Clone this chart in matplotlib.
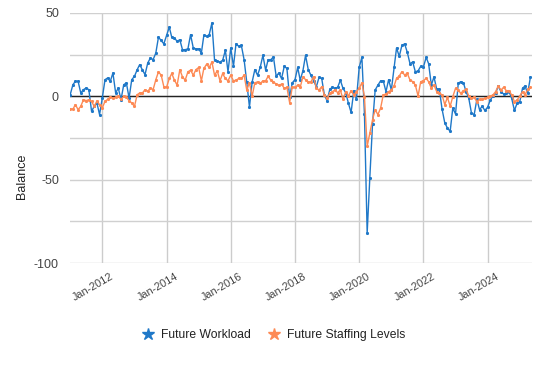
import numpy as np
import pandas as pd
import matplotlib
matplotlib.use("Agg")
import matplotlib.pyplot as plt
import matplotlib.dates as mdates
from matplotlib.lines import Line2D
from matplotlib.transforms import ScaledTranslation

plt.rcParams['font.family'] = ['Liberation Sans', 'DejaVu Sans']
plt.rcParams['axes.unicode_minus'] = False

# monthly balance, Jan-2011 .. May-2025
months = pd.date_range('2011-01-01', periods=173, freq='MS')

workload = [
    # 2011
    1, 7, 9, 9, 2, 4, 5, 4, -9, -6, -4, -11,
    # 2012
    -1, 10, 11, 9, 14, 2, 5, -2, 7, 8, -1, 10,
    # 2013
    12, 16, 19, 16, 13, 20, 23, 22, 26, 35.5, 33.5, 31.5,
    # 2014
    36.5, 41.5, 35.5, 35, 33, 34, 28, 28, 28.5, 37, 29, 28.5,
    # 2015
    28.5, 26, 36.5, 36, 37, 44, 21.6, 21, 20.6, 21.6, 27.6, 14.7,
    # 2016
    29, 18, 31.5, 30, 30.5, 22, 8.7, -6.5, 8.7, 16, 12.7, 17.3,
    # 2017
    24.6, 15.7, 22, 22, 23.6, 12, 14, 10.7, 18, 16.7, -0.6, 8.1,
    # 2018
    10, 17.3, 9.7, 15.3, 24.6, 16, 12.7, 9.3, 5.8, 11.3, 10.7, 0.8,
    # 2019
    -2.6, 4.2, 5.4, 4.8, 5.4, 9.7, 4.8, 2.2, -4.2, -9.7, 3.4, -1.8,
    # 2020
    17.3, 23.4, -10.6, -82, -49, -16.5, 3.8, 6.7, 9.3, 9.3, 2.8, 10,
    # 2021
    3.8, 17.3, 29, 24, 30.5, 31.5, 26.5, 19.6, 20.6, 14.7, 15.3, 18,
    # 2022
    17.6, 23.4, 19.6, 6.7, 11.7, 4.2, 4.2, -7.7, -16, -19, -21, -7,
    # 2023
    -10.6, 7.8, 8.8, 8.1, 2.8, -1.2, -10, -11, -1.8, -8, -6, -8.5,
    # 2024
    -6.5, -2.2, 0.2, 1.8, 6.2, 2.8, 1.4, 1.8, 2.8, -1.2, -8.5, -4.2,
    # 2025
    -3.2, 4.8, 6.2, 1.8, 11.3,
]

staffing = [
    # 2011
    -7.5, -7.7, -5, -8, -6, -2, -2.6, -2, -3, -6, -2.8, -5,
    # 2012
    -7, -3, -1.8, -0.6, -1, -0.6, 0, -1.8, 0, -0.6, -2.6, -4,
    # 2013
    -6, 1, 2, 2, 4, 3, 5, 4, 10, 14.7, 12.7, 5.8,
    # 2014
    5.4, 10.7, 13.7, 9.7, 6.7, 16, 11.7, 9.7, 14.7, 15.7, 12.7, 16,
    # 2015
    17.3, 9.3, 16.7, 19.2, 17.3, 20.6, 12.7, 15.3, 9.3, 13.7, 10.7, 9.3,
    # 2016
    12.7, 9.3, 9.7, 10.7, 10.7, 12.7, 3.8, 8.1, 0.2, 8.1, 8.7, 7.7,
    # 2017
    9.3, 9.3, 12, 9.7, 8.7, 7.3, 6.7, 7.3, 4.8, 5.4, -3.8, 5.4,
    # 2018
    5.4, 6.7, 5.4, 11.7, 10, 8.7, 8.7, 11.7, 4.8, 3.8, 5.8, 0.8,
    # 2019
    -1.2, 1.8, 2.8, 3.8, 2.2, 3.8, -1.8, 2.8, 0.2, 3.4, 0.8, 2.8,
    # 2020
    4.8, 8.1, -0.2, -30, -22, -14, -8, -11, -7, 0.8, 1.4, 2.8,
    # 2021
    3.8, 6.2, 10.8, 12.2, 14.8, 12.8, 13.8, 9.8, 8.8, 6.8, 0.2, 8.8,
    # 2022
    9.4, 10.8, 8.8, 4.8, 6.8, 2.8, 2.2, 0.8, -5, -0.6, -6, -0.2,
    # 2023
    4.8, 3.8, 1.8, 3.4, 4.2, 0.2, -1.2, -0.6, -3.2, -1.8, -1.8, -1.2,
    # 2024
    -0.6, 0.2, 0.8, 2.8, 6.2, 3.8, 5.4, 3.4, 3.4, 0.8, -3.2, -2.2,
    # 2025
    0.2, 2.8, 0.8, 4.2, 5.4,
]

series_names = ['Future Workload', 'Future Staffing Levels']
tick_dates = pd.to_datetime(['2012-01-01', '2014-01-01', '2016-01-01', '2018-01-01',
                             '2020-01-01', '2022-01-01', '2024-01-01'])
colors = ['#1f78c8', '#fd8a55']

fig = plt.figure(figsize=(5.37, 3.66), dpi=100)
ax = fig.add_axes([0.1304, 0.2814, 0.8603, 0.6831])

ax.plot(months, workload, color=colors[0], lw=1.0, marker='*', ms=1.8, zorder=3)
ax.plot(months, staffing, color=colors[1], lw=1.0, marker='*', ms=1.8, zorder=4)

ax.axhline(0, color='#222222', lw=1.0, zorder=2)

ax.set_ylim(-100, 50)
ax.set_yticks([-100, -50, 0, 50])
ax.set_yticks([-75, -25, 25], minor=True)
ax.set_xlim(months[0] - pd.Timedelta(days=2), pd.Timestamp('2025-05-20'))
ax.set_xticks(tick_dates)
ax.xaxis.set_major_formatter(mdates.DateFormatter('%b-%Y'))

ax.grid(True, which='both', axis='y', color='#d0d0d0', lw=1.0, zorder=0)
ax.grid(True, which='major', axis='x', color='#cccccc', lw=1.0, zorder=0)
for s in ax.spines.values():
    s.set_visible(False)
ax.tick_params(axis='both', which='both', length=0)
ax.tick_params(axis='y', labelsize=9, labelcolor='#444444', pad=8)
ax.tick_params(axis='x', labelsize=7.8, labelcolor='#444444', pad=6)
shift = ScaledTranslation(6 / 72, 0, fig.dpi_scale_trans)
for lab in ax.get_xticklabels():
    lab.set_rotation(30)
    lab.set_ha('right')
    lab.set_rotation_mode('anchor')
    lab.set_transform(lab.get_transform() + shift)

fig.text(22 / 537, 1 - 176 / 366, 'Balance', rotation=90, ha='center', va='center',
         fontsize=9, color='#222222')

handles = [Line2D([], [], color=c, marker='*', ls='none', ms=9) for c in colors]
fig.legend(handles, series_names, loc='center', bbox_to_anchor=(0.509, 0.085), ncol=2,
           frameon=False, fontsize=8.7, handlelength=1.2, handletextpad=0.5,
           columnspacing=1.3, labelcolor='#222222')

fig.savefig('out.png', dpi=100)
